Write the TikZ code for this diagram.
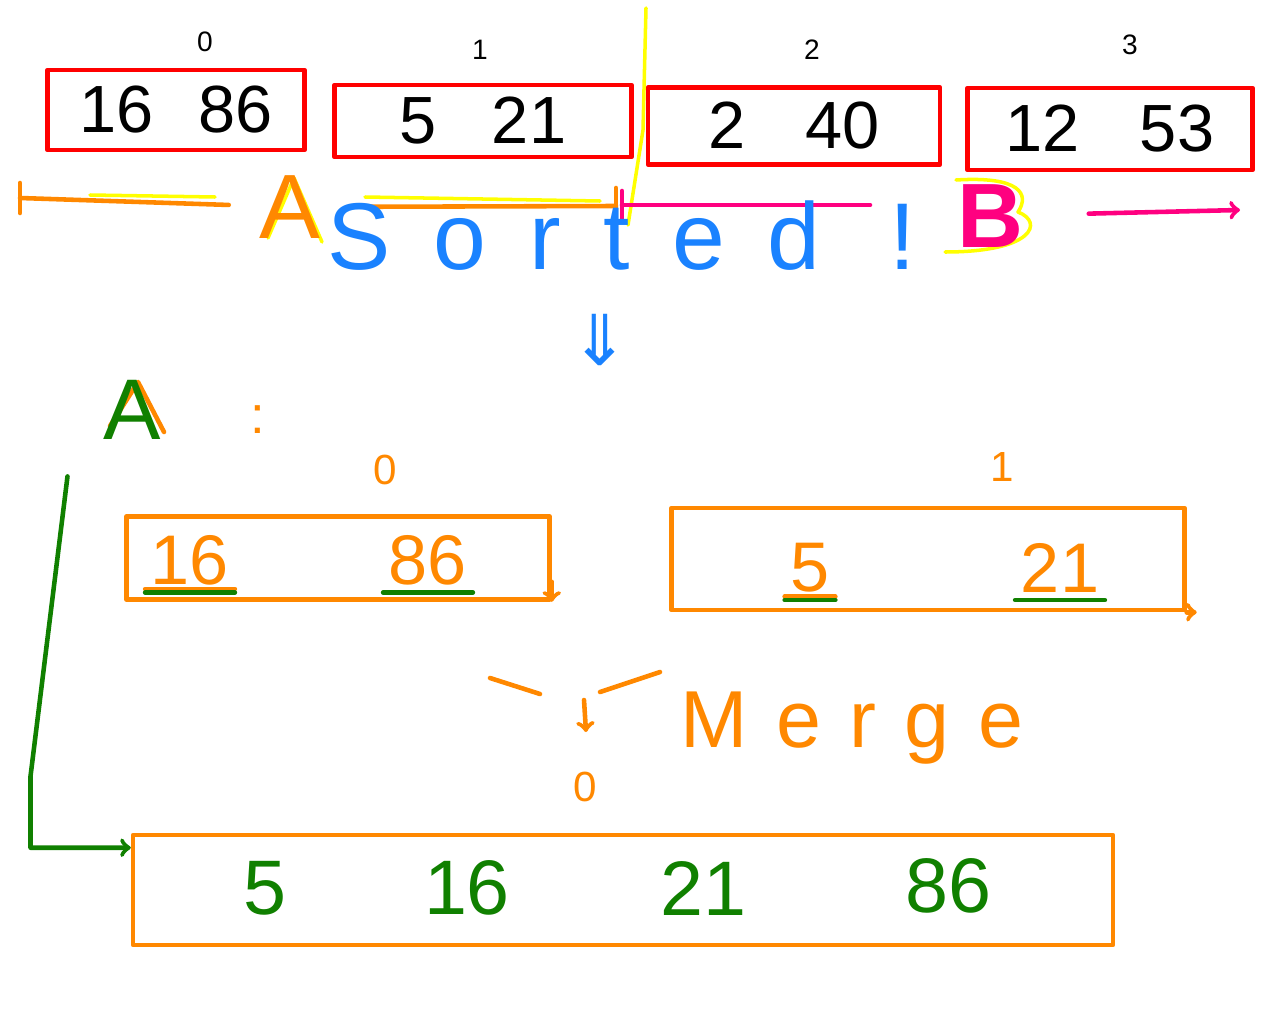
\documentclass[tikz,border=0pt]{standalone}
\usepackage{fontspec}
\setmainfont{Liberation Sans}
\newfontfamily\arrowfont{DejaVu Sans}
\usetikzlibrary{positioning}
\usepackage{xcolor}
\definecolor{run_red}{RGB}{255, 0, 0}
\definecolor{merge_orange}{RGB}{255, 136, 0}
\definecolor{mark_yellow}{RGB}{255, 255, 0}
\definecolor{half_pink}{RGB}{255, 0, 128}
\definecolor{note_blue}{RGB}{26, 130, 255}
\definecolor{pick_green}{RGB}{16, 128, 0}

\begin{document}
\begin{tikzpicture}[x=0.02cm, y=-0.02cm, line width=2.6pt, line cap=round, line join=round,
    runbox/.style={draw=run_red, inner sep=0pt, font=\fontsize{38}{40}\selectfont},
    runidx/.style={inner sep=1pt, font=\fontsize{16}{18}\selectfont},
    mergebox/.style={draw=merge_orange, inner sep=0pt},
    mergeidx/.style={inner sep=1pt, text=merge_orange, font=\fontsize{24}{26}\selectfont},
    halfnum/.style={inner sep=2pt, text=merge_orange, font=\fontsize{40}{42}\selectfont},
    outnum/.style={inner sep=2pt, text=pick_green, font=\fontsize{44}{46}\selectfont},
    pickline/.style={draw=pick_green},
    markline/.style={draw=mark_yellow, line width=2pt}]

      \useasboundingbox (0,0) rectangle (1280,1024);

      % 1. Runs (cajas rojas con su indice)
      \node[runbox, minimum width=5.14cm, minimum height=1.6cm] (run0) at (176,110) {16\hspace{0.9cm}86};
      \node[runbox, minimum width=5.94cm, minimum height=1.44cm] (run1) at (483,121) {5\hspace{1.1cm}21};
      \node[runbox, minimum width=5.84cm, minimum height=1.54cm] (run2) at (794,126) {2\hspace{1.2cm}40};
      \node[runbox, minimum width=5.7cm, minimum height=1.64cm] (run3) at (1110,129) {12\hspace{1.2cm}53};

      \node[runidx] (idx0) at (205,42) {0};
      \node[runidx] (idx1) at (480,50) {1};
      \node[runidx] (idx2) at (812,50) {2};
      \node[runidx] (idx3) at (1130,45) {3};

      % 2. Mitad A y mitad B
      \draw[markline] (646,8) -- (643,130) -- (628,225);
      \coordinate (aL) at (20,198);
      \coordinate (aR) at (616,206);
      \coordinate (bL) at (622,205);
      \coordinate (bM) at (870,205);
      \coordinate (bR) at (1240,210);

      % resaltado amarillo de A y B
      \draw[markline] (268,238) -- (294,178) -- (322,242);
      \draw[markline] (90,195) -- (215,197);
      \draw[markline] (365,197) -- (600,201);
      \draw[markline] (956,180) .. controls (1020,176) and (1030,194) .. (1018,212)
                      .. controls (1044,222) and (1034,252) .. (945,252);

      \node[inner sep=2pt, text=merge_orange, font=\fontsize{52}{54}\selectfont] (halfA) at (290,207) {A};
      \draw[merge_orange, shorten >=0.5cm] (aL) -- (halfA);
      \draw[merge_orange, shorten <=0.8cm] (halfA) -- (aR);
      \draw[merge_orange] (aL) ++(0,-15) -- ++(0,30);
      \draw[merge_orange] (aR) ++(0,-18) -- ++(0,32);

      \node[inner sep=2pt, text=half_pink, font=\bfseries\fontsize{52}{54}\selectfont] (halfB) at (990,216) {B};
      \draw[half_pink] (bL) -- (bM);
      \draw[half_pink] (bL) ++(0,-14) -- ++(0,28);
      \draw[half_pink, ->, shorten <=1.2cm] (halfB) -- (bR);

      % 3. Sorted
      \node[inner sep=0pt, text=note_blue, font=\fontsize{54}{56}\selectfont\addfontfeature{LetterSpace=45}] (sorted) at (622,236) {Sorted !};
      \node[inner sep=0pt, text=note_blue, font=\arrowfont\fontsize{40}{42}\selectfont] (down) at (600,340) {⇓};

      % 4. Mitad A en dos runs
      \draw[merge_orange] (110,426) -- (138,382) -- (164,432);
      \node[inner sep=2pt, text=pick_green, font=\fontsize{49}{51}\selectfont] (lblA) at (132,410) {A};
      \node[inner sep=0pt, text=merge_orange, font=\fontsize{30}{32}\selectfont] (colon) at (258,420) {:};

      \node[mergeidx] (hidx0) at (385,470) {0};
      \node[mergeidx] (hidx1) at (1002,467) {1};

      \node[mergebox, minimum width=8.46cm, minimum height=1.66cm] (half0) at (338,558) {};
      \node[mergebox, minimum width=10.26cm, minimum height=2.04cm] (half1) at (928,559) {};
      \draw[merge_orange, ->] ([yshift=0.4cm]half0.south east) -- (half0.south east);
      \draw[merge_orange, ->] (half1.south east) -- ++(10,0);

      \node[halfnum] (h16) at (190,560) {16};
      \node[halfnum] (h86) at (428,560) {86};
      \node[halfnum] (h5) at (810,568) {5};
      \node[halfnum] (h21) at (1060,568) {21};

      % subrayados (ya elegidos)
      \draw[merge_orange] ([yshift=1pt]h16.south west) -- ([yshift=1pt]h16.south east);
      \draw[merge_orange] ([yshift=1pt]h5.south west) -- ([yshift=1pt]h5.south east);
      \draw[pickline] ([yshift=-1pt]h16.south west) -- ([yshift=-1pt]h16.south east);
      \draw[pickline] ([yshift=-1pt]h86.south west) -- ([yshift=-1pt]h86.south east);
      \draw[pickline] ([yshift=-1pt]h5.south west) -- ([yshift=-1pt]h5.south east);
      \draw[pickline] ([yshift=-1pt]h21.south west) -- ([yshift=-1pt]h21.south east);

      % 5. Merge
      \coordinate (fL1) at (490,678);
      \coordinate (fL2) at (540,694);
      \coordinate (fR1) at (600,692);
      \coordinate (fR2) at (660,672);
      \coordinate (fTop) at (584,700);
      \coordinate (fTip) at (586,732);
      \draw[merge_orange] (fL1) -- (fL2);
      \draw[merge_orange] (fR1) -- (fR2);
      \draw[merge_orange, ->] (fTop) -- (fTip);
      \node[inner sep=0pt, text=merge_orange, font=\fontsize{46}{48}\selectfont\addfontfeature{LetterSpace=35}] (merge) at (852,728) {Merge};

      \node[mergeidx] (ridx0) at (585,787) {0};

      % 6. Resultado
      \node[mergebox, minimum width=19.6cm, minimum height=2.2cm] (result) at (623,890) {};
      \node[outnum] (r5) at (265,888) {5};
      \node[outnum] (r16) at (467,888) {16};
      \node[outnum] (r21) at (703,888) {21};
      \node[outnum] (r86) at (948,886) {86};

      \draw[pickline, ->] (lblA.south west) ++(-30,31) -- ++(-37,300) |- ([yshift=-0.3cm]result.north west);

    \end{tikzpicture}
\end{document}
